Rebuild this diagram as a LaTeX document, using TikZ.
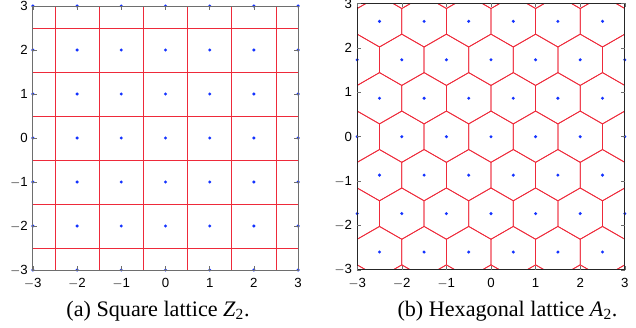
\documentclass[tikz,border=0pt]{standalone}
\usepackage{fontspec}
\setmainfont{Liberation Serif}
\setsansfont{Liberation Sans}
\usepackage{tikz}
\usetikzlibrary{calc}
\definecolor{latred}{HTML}{EE2A3A}
\definecolor{latblue}{HTML}{1433FF}
\definecolor{framegray}{HTML}{6E6E6E}
\tikzset{
  cellline/.style={draw=latred, line width=0.65pt},
  latpoint/.style={fill=latblue},
  frame/.style={draw=framegray, line width=0.8pt},
  tickline/.style={draw=framegray, line width=0.5pt},
  ticklabel/.style={font=\sffamily\fontsize{11.3}{13}\selectfont, inner sep=0pt},
  caption/.style={font=\fontsize{18.9}{22}\selectfont, inner sep=0pt, anchor=base}
}

\begin{document}
\begin{tikzpicture}[x=0.03cm,y=0.03cm]
\useasboundingbox (0,0) rectangle (636,327);

% (a) square lattice
\begin{scope}[shift={(165.5,189)}, x=1.326cm, y=1.32cm]
  \begin{scope}
    \clip (-3,-3) rectangle (3,3);
    \foreach \k in {-2.5,-1.5,...,2.5} {
      \draw[cellline] (\k,-3) -- (\k,3);
      \draw[cellline] (-3,\k) -- (3,\k);
    }
  \end{scope}
  \foreach \i in {-3,...,3}
    \foreach \j in {-3,...,3}
      \fill[latpoint] (\i,\j) circle[radius=0.05cm];
  \draw[frame] (-3,-3) rectangle (3,3);
  \foreach \t in {-3,...,3} {
    \draw[tickline] (\t,-3) -- ++(0,0.12cm) (\t,3) -- ++(0,-0.12cm);
    \draw[tickline] (-3,\t) -- ++(0.12cm,0) (3,\t) -- ++(-0.12cm,0);
    \node[ticklabel, anchor=north] at ($(\t,-3)+(0,-0.25cm)$) {\ifnum\t<0 $-$\number-\t\else\t\fi};
    \node[ticklabel, anchor=east] at ($(-3,\t)+(-0.15cm,0)$) {\ifnum\t<0 $-$\number-\t\else\t\fi};
  }
\end{scope}
\node[caption] (capa) at (158,11) {(a) Square lattice \textit{Z}\textsubscript{2}.};

% (b) hexagonal lattice
\begin{scope}[shift={(491,190.3)}, x=1.338cm, y=1.332cm]
  \begin{scope}
    \clip (-3,-3) rectangle (3,3);
    \foreach \j in {-4,...,4}
      \foreach \i in {-4,...,4} {
        \pgfmathsetmacro{\cx}{\i+0.5*mod(abs(\j),2)}
        \pgfmathsetmacro{\cy}{0.866025*\j}
        \draw[cellline] (\cx,\cy+0.57735) -- (\cx+0.5,\cy+0.288675)
          -- (\cx+0.5,\cy-0.288675) -- (\cx,\cy-0.57735)
          -- (\cx-0.5,\cy-0.288675) -- (\cx-0.5,\cy+0.288675) -- cycle;
      }
  \end{scope}
  \foreach \j in {-2,0,2}
    \foreach \i in {-3,...,3}
      \fill[latpoint] (\i,0.866025*\j) circle[radius=0.05cm];
  \foreach \j in {-3,-1,1,3}
    \foreach \i in {-2.5,-1.5,...,2.5}
      \fill[latpoint] (\i,0.866025*\j) circle[radius=0.05cm];
  \draw[frame, draw=black!85] (-3,-3) rectangle (3,3);
  \foreach \t in {-3,...,3} {
    \draw[tickline] (\t,-3) -- ++(0,0.12cm) (\t,3) -- ++(0,-0.12cm);
    \draw[tickline] (-3,\t) -- ++(0.12cm,0) (3,\t) -- ++(-0.12cm,0);
    \node[ticklabel, anchor=north] at ($(\t,-3)+(0,-0.25cm)$) {\ifnum\t<0 $-$\number-\t\else\t\fi};
    \node[ticklabel, anchor=east] at ($(-3,\t)+(-0.15cm,0)$) {\ifnum\t<0 $-$\number-\t\else\t\fi};
  }
\end{scope}
\node[caption] (capb) at (507.5,10.3) {(b) Hexagonal lattice \textit{A}\textsubscript{2}.};
\end{tikzpicture}
\end{document}
